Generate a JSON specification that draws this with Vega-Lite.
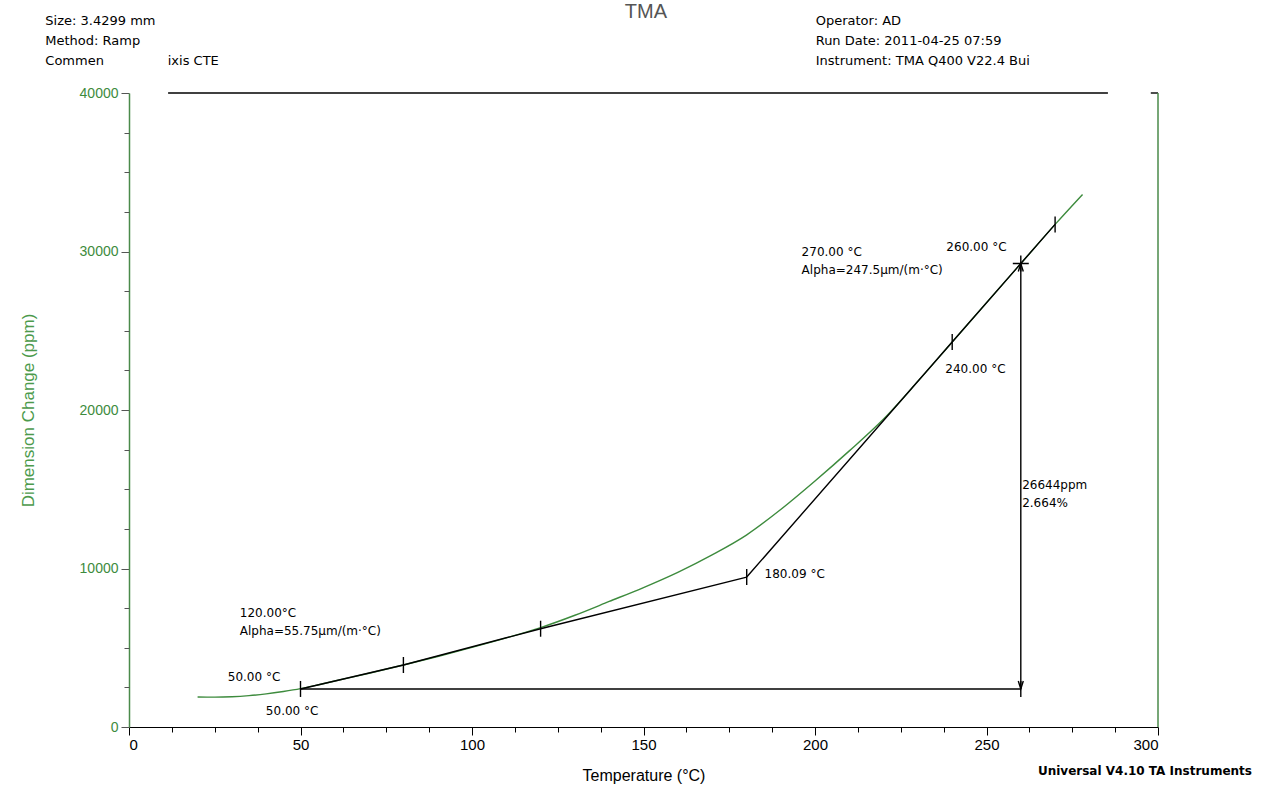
{
  "$schema": "https://vega.github.io/schema/vega-lite/v6.json",
  "width": 1029,
  "height": 634,
  "autosize": {"type": "none"},
  "padding": {"left": 129, "top": 93, "right": 129, "bottom": 59},
  "background": "white",
  "config": {"view": {"stroke": null}, "font": "Liberation Sans"},
  "datasets": {
    "curve": [
      {"T": 20, "v": 1890}, {"T": 25, "v": 1885}, {"T": 30, "v": 1910}, {"T": 35, "v": 1980},
      {"T": 40, "v": 2090}, {"T": 45, "v": 2240}, {"T": 50, "v": 2420}, {"T": 55, "v": 2650},
      {"T": 60, "v": 2900}, {"T": 70, "v": 3390}, {"T": 80, "v": 3910}, {"T": 90, "v": 4450},
      {"T": 100, "v": 5020}, {"T": 110, "v": 5620}, {"T": 120, "v": 6270}, {"T": 130, "v": 7050},
      {"T": 140, "v": 7920}, {"T": 150, "v": 8800}, {"T": 160, "v": 9760}, {"T": 170, "v": 10860},
      {"T": 180, "v": 12110}, {"T": 190, "v": 13720}, {"T": 200, "v": 15520}, {"T": 210, "v": 17420},
      {"T": 220, "v": 19430}, {"T": 230, "v": 21810}, {"T": 240, "v": 24290}, {"T": 250, "v": 26770},
      {"T": 260, "v": 29240}, {"T": 270, "v": 31710}, {"T": 278, "v": 33600}
    ],
    "lines": [
      {"seg": "tan1", "T": 50, "v": 2400}, {"seg": "tan1", "T": 80, "v": 3910},
      {"seg": "tan1", "T": 120, "v": 6200}, {"seg": "tan1", "T": 180.09, "v": 9460},
      {"seg": "tan2", "T": 180.09, "v": 9460}, {"seg": "tan2", "T": 240, "v": 24290},
      {"seg": "tan2", "T": 260, "v": 29240}, {"seg": "tan2", "T": 270, "v": 31710},
      {"seg": "base", "T": 50, "v": 2400}, {"seg": "base", "T": 260, "v": 2400},
      {"seg": "arrow", "T": 260, "v": 2400}, {"seg": "arrow", "T": 260, "v": 29240},
      {"seg": "top1", "T": 11.4, "v": 40000}, {"seg": "top1", "T": 285.4, "v": 40000},
      {"seg": "top2", "T": 297.9, "v": 40000}, {"seg": "top2", "T": 300, "v": 40000}
    ],
    "rightAxis": [
      {"T": 300, "v": 0}, {"T": 300, "v": 40000}
    ],
    "markers": [
      {"kind": "tick", "T": 50, "v": 2400}, {"kind": "tick", "T": 80, "v": 3910},
      {"kind": "tick", "T": 120, "v": 6200}, {"kind": "tick", "T": 180.09, "v": 9460},
      {"kind": "tick", "T": 240, "v": 24290}, {"kind": "tick", "T": 270, "v": 31710},
      {"kind": "tick", "T": 260, "v": 2400},
      {"kind": "cross", "T": 260, "v": 29240},
      {"kind": "down", "T": 260, "v": 2400},
      {"kind": "up", "T": 260, "v": 29240}
    ],
    "labels": [
      {"T": 28.8, "v": 3155, "text": "50.00 °C"},
      {"T": 39.9, "v": 1009, "text": "50.00 °C"},
      {"T": 32.3, "v": 7192, "text": "120.00°C"},
      {"T": 32.3, "v": 6057, "text": "Alpha=55.75µm/(m·°C)"},
      {"T": 185.3, "v": 9653, "text": "180.09 °C"},
      {"T": 196.1, "v": 29968, "text": "270.00 °C"},
      {"T": 196.1, "v": 28833, "text": "Alpha=247.5µm/(m·°C)"},
      {"T": 238.3, "v": 30283, "text": "260.00 °C"},
      {"T": 238.0, "v": 22586, "text": "240.00 °C"},
      {"T": 260.4, "v": 15268, "text": "26644ppm"},
      {"T": 260.4, "v": 14132, "text": "2.664%"}
    ],
    "header": [
      {"T": -24.4, "v": 44540, "text": "Size: 3.4299 mm"},
      {"T": -24.4, "v": 43280, "text": "Method: Ramp"},
      {"T": -24.4, "v": 42020, "text": "Commen"},
      {"T": 11.3, "v": 42020, "text": "ixis CTE"},
      {"T": 200.2, "v": 44540, "text": "Operator: AD"},
      {"T": 200.2, "v": 43280, "text": "Run Date: 2011-04-25 07:59"},
      {"T": 200.2, "v": 42020, "text": "Instrument: TMA Q400 V22.4 Bui"}
    ],
    "title": [
      {"T": 150.7, "v": 45110, "text": "TMA"}
    ],
    "footer": [
      {"T": 265, "v": -2776, "text": "Universal V4.10 TA Instruments"}
    ]
  },
  "layer": [
    {
      "data": {"name": "curve"},
      "mark": {"type": "line", "color": "#3d8b3d", "strokeWidth": 1.4, "interpolate": "monotone"},
      "encoding": {
        "x": {"field": "T", "type": "quantitative", "scale": {"domain": [0, 300], "nice": false, "zero": false},
          "axis": {"orient": "bottom", "values": [0, 50, 100, 150, 200, 250, 300], "grid": false,
            "domainColor": "black", "tickColor": "black", "tickSize": 8, "labelFontSize": 15, "labelColor": "black",
            "labelPadding": 2, "title": "Temperature (°C)", "titleFontSize": 16, "titleFontWeight": "normal",
            "titleColor": "black", "titlePadding": 15}},
        "y": {"field": "v", "type": "quantitative", "scale": {"domain": [0, 40000], "nice": false, "zero": false},
          "axis": {"orient": "left", "values": [0, 10000, 20000, 30000, 40000], "grid": false, "format": "d",
            "domainColor": "#4a8a4a", "domainWidth": 1.5, "tickColor": "#555555", "tickSize": 8, "labelFontSize": 14,
            "labelColor": "#3d8b3d", "labelPadding": 3, "title": "Dimension Change (ppm)", "titleFontSize": 17,
            "titleFontWeight": "normal", "titleColor": "#4c9a4c", "titlePadding": 42}}
      }
    },
    {
      "data": {"name": "lines"},
      "mark": {"type": "line", "color": "black", "strokeWidth": 1.4},
      "encoding": {
        "x": {"field": "T", "type": "quantitative", "scale": {"domain": [0, 300], "nice": false, "zero": false},
          "axis": {"orient": "bottom", "values": [12.5, 25, 37.5, 62.5, 75, 87.5, 112.5, 125, 137.5, 162.5, 175, 187.5, 212.5, 225, 237.5, 262.5, 275, 287.5],
            "labels": false, "domain": false, "grid": false, "tickColor": "black", "tickSize": 5, "title": null}},
        "y": {"field": "v", "type": "quantitative", "scale": {"domain": [0, 40000], "nice": false, "zero": false},
          "axis": {"orient": "left", "values": [2500, 5000, 7500, 12500, 15000, 17500, 22500, 25000, 27500, 32500, 35000, 37500],
            "labels": false, "domain": false, "grid": false, "tickColor": "#555555", "tickSize": 5, "title": null}},
        "detail": {"field": "seg", "type": "nominal"}
      }
    },
    {
      "data": {"name": "rightAxis"},
      "mark": {"type": "line", "color": "#4a8a4a", "strokeWidth": 1.5},
      "encoding": {
        "x": {"field": "T", "type": "quantitative", "scale": {"domain": [0, 300], "nice": false, "zero": false}, "axis": null},
        "y": {"field": "v", "type": "quantitative", "scale": {"domain": [0, 40000], "nice": false, "zero": false}, "axis": null}
      }
    },
    {
      "data": {"name": "markers"},
      "transform": [{"filter": "datum.kind === 'tick'"}],
      "mark": {"type": "point", "shape": "M0,-1L0,1", "size": 256, "filled": false, "stroke": "black", "strokeWidth": 1.4, "opacity": 1},
      "encoding": {
        "x": {"field": "T", "type": "quantitative", "scale": {"domain": [0, 300], "nice": false, "zero": false}, "axis": null},
        "y": {"field": "v", "type": "quantitative", "scale": {"domain": [0, 40000], "nice": false, "zero": false}, "axis": null}
      }
    },
    {
      "data": {"name": "markers"},
      "transform": [{"filter": "datum.kind === 'cross'"}],
      "mark": {"type": "point", "shape": "M0,-1L0,1M-1,0L1,0", "size": 256, "filled": false, "stroke": "black", "strokeWidth": 1.4, "opacity": 1},
      "encoding": {
        "x": {"field": "T", "type": "quantitative", "scale": {"domain": [0, 300], "nice": false, "zero": false}, "axis": null},
        "y": {"field": "v", "type": "quantitative", "scale": {"domain": [0, 40000], "nice": false, "zero": false}, "axis": null}
      }
    },
    {
      "data": {"name": "markers"},
      "transform": [{"filter": "datum.kind === 'down'"}],
      "mark": {"type": "point", "shape": "M-0.5,-1.6L0,0L0.5,-1.6", "size": 100, "filled": false, "stroke": "black", "strokeWidth": 1.4, "opacity": 1},
      "encoding": {
        "x": {"field": "T", "type": "quantitative", "scale": {"domain": [0, 300], "nice": false, "zero": false}, "axis": null},
        "y": {"field": "v", "type": "quantitative", "scale": {"domain": [0, 40000], "nice": false, "zero": false}, "axis": null}
      }
    },
    {
      "data": {"name": "markers"},
      "transform": [{"filter": "datum.kind === 'up'"}],
      "mark": {"type": "point", "shape": "M-0.5,1.6L0,0L0.5,1.6", "size": 100, "filled": false, "stroke": "black", "strokeWidth": 1.4, "opacity": 1},
      "encoding": {
        "x": {"field": "T", "type": "quantitative", "scale": {"domain": [0, 300], "nice": false, "zero": false}, "axis": null},
        "y": {"field": "v", "type": "quantitative", "scale": {"domain": [0, 40000], "nice": false, "zero": false}, "axis": null}
      }
    },
    {
      "data": {"name": "labels"},
      "mark": {"type": "text", "align": "left", "baseline": "middle", "fontSize": 12, "font": "DejaVu Sans", "color": "black"},
      "encoding": {
        "x": {"field": "T", "type": "quantitative", "scale": {"domain": [0, 300], "nice": false, "zero": false}, "axis": null},
        "y": {"field": "v", "type": "quantitative", "scale": {"domain": [0, 40000], "nice": false, "zero": false}, "axis": null},
        "text": {"field": "text"}
      }
    },
    {
      "data": {"name": "header"},
      "mark": {"type": "text", "align": "left", "baseline": "middle", "fontSize": 13, "font": "DejaVu Sans", "color": "black"},
      "encoding": {
        "x": {"field": "T", "type": "quantitative", "scale": {"domain": [0, 300], "nice": false, "zero": false}, "axis": null},
        "y": {"field": "v", "type": "quantitative", "scale": {"domain": [0, 40000], "nice": false, "zero": false}, "axis": null},
        "text": {"field": "text"}
      }
    },
    {
      "data": {"name": "title"},
      "mark": {"type": "text", "align": "center", "baseline": "middle", "fontSize": 20, "color": "#555555"},
      "encoding": {
        "x": {"field": "T", "type": "quantitative", "scale": {"domain": [0, 300], "nice": false, "zero": false}, "axis": null},
        "y": {"field": "v", "type": "quantitative", "scale": {"domain": [0, 40000], "nice": false, "zero": false}, "axis": null},
        "text": {"field": "text"}
      }
    },
    {
      "data": {"name": "footer"},
      "mark": {"type": "text", "align": "left", "baseline": "middle", "fontSize": 12, "font": "DejaVu Sans", "fontWeight": "bold", "color": "black"},
      "encoding": {
        "x": {"field": "T", "type": "quantitative", "scale": {"domain": [0, 300], "nice": false, "zero": false}, "axis": null},
        "y": {"field": "v", "type": "quantitative", "scale": {"domain": [0, 40000], "nice": false, "zero": false}, "axis": null},
        "text": {"field": "text"}
      }
    }
  ],
  "resolve": {"axis": {"x": "independent", "y": "independent"}}
}
